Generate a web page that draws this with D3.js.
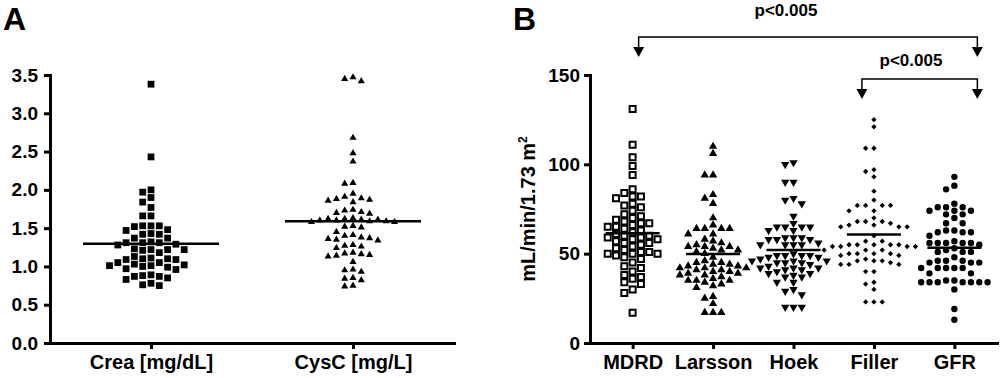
<!DOCTYPE html>
<html><head><meta charset="utf-8">
<script src="https://cdn.jsdelivr.net/npm/d3@7"></script>
<style>
html,body{margin:0;padding:0;background:#fff;}
svg{display:block;font-family:"Liberation Sans",Arial,sans-serif;font-weight:bold;}
</style></head>
<body>
<svg id="chart" width="1000" height="378"></svg>
<script>
// ---------- Data ----------
const catsA = ["Crea [mg/dL]", "CysC [mg/L]"];
const ticksA = [0, 0.5, 1.0, 1.5, 2.0, 2.5, 3.0, 3.5];
const crea = [3.38, 2.43, 2.00, 1.97, 1.90, 1.84, 1.77, 1.66, 1.66, 1.53, 1.53, 1.53, 1.52, 1.48, 1.47, 1.43, 1.42, 1.42, 1.37, 1.37, 1.32, 1.31, 1.31, 1.31, 1.29, 1.28, 1.23, 1.22, 1.22, 1.22, 1.21, 1.18, 1.13, 1.11, 1.10, 1.10, 1.09, 1.09, 1.05, 1.05, 1.03, 1.02, 1.01, 1.01, 1.00, 0.99, 0.97, 0.96, 0.89, 0.88, 0.87, 0.87, 0.85, 0.83, 0.78, 0.76, 0.75];
const cysc = [3.47, 3.45, 3.42, 2.68, 2.48, 2.37, 2.09, 2.08, 1.95, 1.91, 1.89, 1.88, 1.87, 1.86, 1.84, 1.74, 1.73, 1.71, 1.70, 1.69, 1.63, 1.62, 1.62, 1.61, 1.61, 1.60, 1.60, 1.59, 1.59, 1.58, 1.58, 1.53, 1.52, 1.51, 1.45, 1.41, 1.40, 1.38, 1.37, 1.36, 1.35, 1.34, 1.28, 1.27, 1.26, 1.24, 1.18, 1.17, 1.16, 1.15, 1.14, 1.13, 1.06, 0.96, 0.95, 0.93, 0.85, 0.84, 0.82, 0.75, 0.74];

const catsB = ["MDRD", "Larsson", "Hoek", "Filler", "GFR"];
const ticksB = [0, 50, 100, 150];
const mdrd = [131, 111, 104, 99, 94, 86, 84, 82, 82, 81, 78, 77, 76, 74, 72, 71, 70, 69, 68, 67, 67, 66, 65, 65, 64, 63, 62, 61, 60, 60, 59, 59, 58, 58, 57, 56, 56, 55, 54, 53, 52, 51, 51, 50, 50, 50, 49, 48, 47, 45, 43, 42, 40, 38, 37, 36, 34, 33, 30, 28, 17];
const larsson = [110, 106, 94, 94, 83, 81, 78, 70, 66, 64, 64, 64, 64, 61, 61, 58, 57, 56, 55, 54, 54, 54, 53, 52, 52, 51, 50, 48, 46, 45, 45, 44, 44, 43, 43, 42, 42, 42, 41, 41, 40, 40, 39, 39, 38, 38, 37, 36, 35, 35, 35, 34, 33, 32, 31, 26, 25, 22, 17, 17, 17];
const hoek = [101, 100, 90, 90, 81, 80, 78, 71, 67, 65, 65, 65, 65, 63, 63, 59, 59, 59, 58, 58, 58, 56, 55, 55, 55, 55, 50, 49, 49, 49, 49, 48, 48, 47, 46, 46, 46, 45, 45, 45, 44, 43, 42, 42, 42, 41, 41, 40, 39, 39, 38, 37, 37, 34, 34, 30, 29, 27, 20, 20, 20];
const filler = [125, 121, 109, 109, 97, 96, 93, 85, 80, 77, 77, 77, 77, 74, 74, 70, 68, 68, 68, 67, 66, 66, 65, 65, 65, 60, 57, 57, 55, 55, 55, 55, 55, 54, 54, 54, 54, 52, 52, 52, 50, 50, 50, 50, 49, 49, 47, 46, 46, 46, 45, 44, 44, 44, 40, 40, 34, 33, 30, 23, 23, 23];
const gfr = [93, 88, 86, 78, 76, 76, 76, 74, 74, 74, 72, 72, 70, 67, 67, 63, 63, 62, 62, 62, 60, 57, 56, 56, 56, 56, 56, 55, 53, 52, 51, 51, 51, 48, 46, 46, 46, 45, 45, 45, 42, 42, 42, 42, 42, 39, 39, 35, 35, 34, 34, 34, 34, 34, 34, 34, 30, 19, 13];
const pLabels = ["p<0.005", "p<0.005"];

// ---------- Drawing ----------
const svg = d3.select("#chart");

// simple column beeswarm
function swarm(values, yScale, colW, h) {
  const placed = [];
  const sorted = values.slice().sort((a, b) => b - a);
  const seq = [0];
  for (let k = 1; k < 14; k++) { seq.push(-k, k); }
  sorted.forEach(v => {
    const py = yScale(v);
    for (const c of seq) {
      if (!placed.some(p => p.col === c && Math.abs(p.py - py) < h)) {
        placed.push({v, py, col: c, dx: c * colW});
        break;
      }
    }
  });
  return placed;
}

function styleAxis(g) {
  g.select(".domain").attr("stroke", "#000").attr("stroke-width", 3).attr("stroke-linecap", "square");
  g.selectAll(".tick line").attr("stroke", "#000").attr("stroke-width", 3);
  g.selectAll(".tick text").attr("fill", "#000").attr("font-weight", "bold");
}

const sym = {
  sqFill: d3.symbol().type(d3.symbolSquare).size(46),
  triSmall: d3.symbol().type(d3.symbolTriangle).size(22),
  sqOpen: d3.symbol().type(d3.symbolSquare).size(36),
  tri: d3.symbol().type(d3.symbolTriangle).size(30),
  diamond: d3.symbol().type(d3.symbolSquare).size(14),
  circle: d3.symbol().type(d3.symbolCircle).size(32)
};

// ----- Panel A -----
const yA = d3.scaleLinear().domain([0, 3.5]).range([343, 75]);
const xA = d3.scalePoint().domain(catsA).range([50, 454]).padding(0.5);

const gA = svg.append("g");
gA.append("g").attr("transform", "translate(50,0)")
  .call(d3.axisLeft(yA).tickValues(ticksA).tickFormat(d3.format(".1f")).tickSize(6).tickSizeOuter(0).tickPadding(6))
  .call(styleAxis).call(g => g.selectAll(".tick text").attr("font-size", 19));
gA.append("g").attr("transform", "translate(0,343)")
  .call(d3.axisBottom(xA).tickSize(6).tickSizeOuter(0).tickPadding(6))
  .call(styleAxis).call(g => g.selectAll(".tick text").attr("font-size", 20));

const seriesA = [
  {cat: catsA[0], vals: crea, shape: sym.sqFill, rot: 0, fill: "#000", stroke: "none"},
  {cat: catsA[1], vals: cysc, shape: sym.triSmall, rot: 0, fill: "#000", stroke: "none"}
];
seriesA.forEach(s => {
  const cx = xA(s.cat);
  const pts = swarm(s.vals, yA, 8.3, 7.6);
  gA.append("g").selectAll("path").data(pts).join("path")
    .attr("d", s.shape)
    .attr("transform", d => `translate(${cx + d.dx},${d.py}) rotate(${s.rot})`)
    .attr("fill", s.fill).attr("stroke", s.stroke);
  const m = d3.mean(s.vals);
  gA.append("line").attr("x1", cx - 68).attr("x2", cx + 68)
    .attr("y1", yA(m)).attr("y2", yA(m)).attr("stroke", "#000").attr("stroke-width", 2.5);
});

svg.append("text").attr("x", 3).attr("y", 30).attr("font-size", 32).attr("font-weight", "bold").text("A");

// ----- Panel B -----
const yB = d3.scaleLinear().domain([0, 150]).range([343, 75]);
const xB = d3.scalePoint().domain(catsB).range([590, 997]).padding(0.53);

const gB = svg.append("g");
gB.append("g").attr("transform", "translate(590,0)")
  .call(d3.axisLeft(yB).tickValues(ticksB).tickFormat(d3.format("d")).tickSize(6).tickSizeOuter(0).tickPadding(4))
  .call(styleAxis).call(g => g.selectAll(".tick text").attr("font-size", 19));
gB.append("g").attr("transform", "translate(0,343)")
  .call(d3.axisBottom(xB).tickSize(6).tickSizeOuter(0).tickPadding(6))
  .call(styleAxis).call(g => g.selectAll(".tick text").attr("font-size", 20));

const yl = gB.append("text").attr("transform", `translate(535,${(75 + 343) / 2}) rotate(-90)`)
  .attr("text-anchor", "middle").attr("font-size", 20).attr("font-weight", "bold");
yl.append("tspan").text("mL/min/1.73 m");
yl.append("tspan").attr("font-size", 12).attr("dy", -8).text("2");

const seriesB = [
  {cat: "MDRD", vals: mdrd, shape: sym.sqOpen, rot: 0, fill: "#fff", stroke: "#000"},
  {cat: "Larsson", vals: larsson, shape: sym.tri, rot: 0, fill: "#000", stroke: "none"},
  {cat: "Hoek", vals: hoek, shape: sym.tri, rot: 180, fill: "#000", stroke: "none"},
  {cat: "Filler", vals: filler, shape: sym.diamond, rot: 45, fill: "#000", stroke: "none"},
  {cat: "GFR", vals: gfr, shape: sym.circle, rot: 0, fill: "#000", stroke: "none"}
];
seriesB.forEach(s => {
  const cx = xB(s.cat);
  const pts = swarm(s.vals, yB, 8.3, 6.2);
  gB.append("g").selectAll("path").data(pts).join("path")
    .attr("d", s.shape)
    .attr("transform", d => `translate(${cx + d.dx},${d.py}) rotate(${s.rot})`)
    .attr("fill", s.fill).attr("stroke", s.stroke).attr("stroke-width", 2);
  const m = d3.mean(s.vals);
  gB.append("line").attr("x1", cx - 27).attr("x2", cx + 27)
    .attr("y1", yB(m)).attr("y2", yB(m)).attr("stroke", "#000").attr("stroke-width", 2.5);
});

svg.append("text").attr("x", 513).attr("y", 30).attr("font-size", 32).attr("font-weight", "bold").text("B");

// significance brackets
const brackets = [
  {from: "MDRD", to: "GFR", dxFrom: 6, dxTo: 23, yLine: 37, label: pLabels[0], tx: 786, ty: 16},
  {from: "Filler", to: "GFR", dxFrom: -12, dxTo: 23, yLine: 79, label: pLabels[1], tx: 911, ty: 66}
];
brackets.forEach(b => {
  const x1 = xB(b.from) + b.dxFrom, x2 = xB(b.to) + b.dxTo;
  const tipY = b.yLine + 20;
  gB.append("path").attr("d", `M${x1},${tipY - 9}V${b.yLine}H${x2}V${tipY - 9}`)
    .attr("fill", "none").attr("stroke", "#000").attr("stroke-width", 1.5);
  [x1, x2].forEach(x => {
    gB.append("path").attr("d", `M${x - 5.5},${tipY - 10}L${x + 5.5},${tipY - 10}L${x},${tipY}Z`).attr("fill", "#000");
  });
  gB.append("text").attr("x", b.tx).attr("y", b.ty).attr("text-anchor", "middle")
    .attr("font-size", 17).attr("font-weight", "bold").text(b.label);
});
</script>
</body></html>
